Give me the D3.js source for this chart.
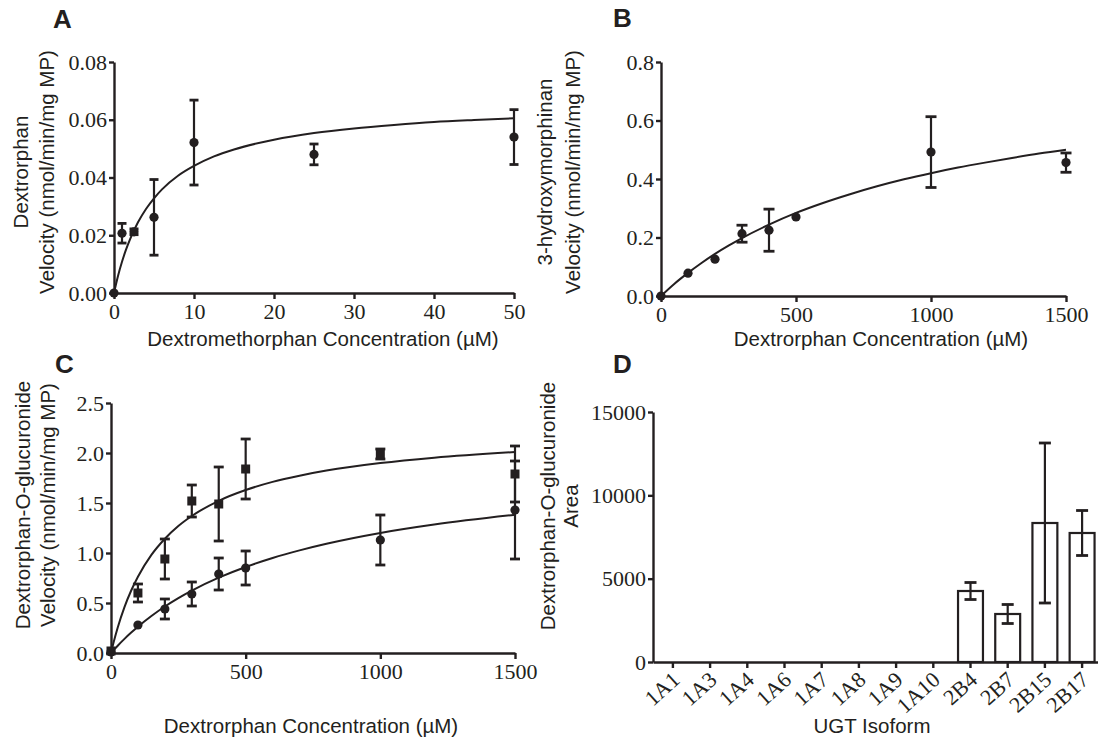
<!DOCTYPE html>
<html>
<head>
<meta charset="utf-8">
<script src="https://cdn.jsdelivr.net/npm/d3@7"></script>
<style>
  body { margin: 0; background: #fff; }
  .tick text { font-family: "Liberation Serif", "Times New Roman", serif; font-size: 22px; fill: #231f20; }
  .title { font-family: "Liberation Sans", Arial, sans-serif; font-size: 20.5px; fill: #231f20; }
  .letter { font-family: "Liberation Sans", Arial, sans-serif; font-size: 26px; font-weight: bold; fill: #231f20; }
</style>
</head>
<body>
<script>
// Panel A - dextromethorphan -> dextrorphan
var aConc = [0, 1, 2.5, 5, 10, 25, 50];
var aMean = [0, 0.0207, 0.0212, 0.0262, 0.0521, 0.0480, 0.0540];
var aErr  = [0, 0.0034, 0.0010, 0.0131, 0.0147, 0.0036, 0.0095];
var aFitConc = [0, 0.5, 1, 1.5, 2, 3, 4, 5, 6, 8, 10, 12.5, 15, 20, 25, 30, 35, 40, 45, 50];
var aFitRate = [0, 0.0059, 0.0108, 0.0150, 0.0186, 0.0245, 0.0291, 0.0328, 0.0359, 0.0406, 0.0440, 0.0473, 0.0497, 0.0531, 0.0554, 0.0570, 0.0582, 0.0592, 0.0599, 0.0605];

// Panel B - dextrorphan -> 3-hydroxymorphinan
var bConc = [0, 100, 200, 300, 400, 500, 1000, 1500];
var bMean = [0, 0.078, 0.126, 0.213, 0.225, 0.270, 0.492, 0.456];
var bErr  = [0, 0, 0, 0.029, 0.072, 0, 0.121, 0.033];
var bFitConc = [0, 50, 100, 150, 200, 250, 300, 400, 500, 600, 700, 800, 900, 1000, 1100, 1200, 1300, 1400, 1500];
var bFitRate = [0, 0.042, 0.079, 0.113, 0.144, 0.172, 0.198, 0.244, 0.284, 0.318, 0.348, 0.375, 0.399, 0.420, 0.439, 0.456, 0.472, 0.487, 0.500];

// Panel C - dextrorphan -> dextrorphan-O-glucuronide (squares and circles)
var cConc = [0, 100, 200, 300, 400, 500, 1000, 1500];
var cSqMean = [0.02, 0.60, 0.94, 1.52, 1.49, 1.84, 1.99, 1.79];
var cSqErr  = [0, 0.09, 0.20, 0.16, 0.37, 0.30, 0.05, 0.28];
var cCiMean = [0.01, 0.28, 0.44, 0.59, 0.79, 0.85, 1.13, 1.43];
var cCiErr  = [0, 0, 0.10, 0.12, 0.16, 0.17, 0.25, 0.49];
var cFitConc = [0, 10, 25, 50, 75, 100, 150, 200, 250, 300, 400, 500, 600, 700, 800, 1000, 1200, 1500];
var cSqFit = [0, 0.109, 0.255, 0.459, 0.625, 0.763, 0.981, 1.143, 1.270, 1.370, 1.522, 1.630, 1.711, 1.773, 1.824, 1.899, 1.953, 2.010];
var cCiFit = [0, 0.030, 0.073, 0.141, 0.204, 0.263, 0.370, 0.465, 0.549, 0.624, 0.753, 0.860, 0.950, 1.026, 1.092, 1.200, 1.284, 1.382];

// Panel D - UGT isoform screen
var isoforms = ["1A1", "1A3", "1A4", "1A6", "1A7", "1A8", "1A9", "1A10", "2B4", "2B7", "2B15", "2B17"];
var areaMean = [0, 0, 0, 0, 0, 0, 0, 0, 4260, 2880, 8340, 7740];
var areaErr  = [0, 0, 0, 0, 0, 0, 0, 0, 510, 570, 4800, 1350];

var ink = "#231f20";

var svg = d3.select("body").append("svg")
    .attr("width", 1098)
    .attr("height", 740);

function zip(xs, ys, es) {
  return xs.map(function(v, i) { return { x: v, y: ys[i], e: es ? es[i] : 0 }; });
}

function yAxis(y, ticks, fmt, x0) {
  var g = svg.append("g")
      .attr("transform", "translate(" + x0 + ",0)")
      .attr("color", ink)
      .call(d3.axisLeft(y).tickValues(ticks).tickFormat(fmt).tickSize(5).tickPadding(2).tickSizeOuter(0));
  g.selectAll("line, path").attr("stroke-width", 2.4);
  return g;
}

function xAxis(x, ticks, fmt, y0) {
  var g = svg.append("g")
      .attr("transform", "translate(0," + y0 + ")")
      .attr("color", ink)
      .call(d3.axisBottom(x).tickValues(ticks).tickFormat(fmt).tickSize(6).tickPadding(4).tickSizeOuter(0));
  g.selectAll("line, path").attr("stroke-width", 2.4);
  return g;
}

function fitLine(x, y, xs, ys) {
  svg.append("path")
      .datum(zip(xs, ys))
      .attr("fill", "none")
      .attr("stroke", ink)
      .attr("stroke-width", 2)
      .attr("d", d3.line()
        .x(function(d) { return x(d.x); })
        .y(function(d) { return y(d.y); })
        .curve(d3.curveMonotoneX));
}

function errorBars(x, y, pts, cap) {
  var g = svg.append("g").attr("stroke", ink).attr("stroke-width", 2.2);
  pts.filter(function(d) { return d.e > 0; }).forEach(function(d) {
    var cx = x(d.x), top = y(d.y + d.e), bot = y(d.y - d.e);
    g.append("line").attr("x1", cx).attr("x2", cx).attr("y1", top).attr("y2", bot);
    g.append("line").attr("x1", cx - cap / 2).attr("x2", cx + cap / 2).attr("y1", top).attr("y2", top).attr("stroke-width", 2.8);
    g.append("line").attr("x1", cx - cap / 2).attr("x2", cx + cap / 2).attr("y1", bot).attr("y2", bot).attr("stroke-width", 2.8);
  });
}

function circles(x, y, pts, r) {
  svg.append("g").selectAll("circle")
    .data(pts)
    .join("circle")
      .attr("cx", function(d) { return x(d.x); })
      .attr("cy", function(d) { return y(d.y); })
      .attr("r", r)
      .attr("fill", ink);
}

function squares(x, y, pts, s) {
  svg.append("g").selectAll("rect")
    .data(pts)
    .join("rect")
      .attr("x", function(d) { return x(d.x) - s / 2; })
      .attr("y", function(d) { return y(d.y) - s / 2; })
      .attr("width", s)
      .attr("height", s)
      .attr("fill", ink);
}

function xTitle(text, cx, baseline) {
  svg.append("text").attr("class", "title")
      .attr("x", cx).attr("y", baseline)
      .attr("text-anchor", "middle")
      .text(text);
}

function yTitle(lines, xs, cy) {
  lines.forEach(function(t, i) {
    svg.append("text").attr("class", "title")
        .attr("transform", "translate(" + xs[i] + "," + cy + ") rotate(-90)")
        .attr("text-anchor", "middle")
        .attr("dy", "0.35em")
        .text(t);
  });
}

function letter(t, x, y) {
  svg.append("text").attr("class", "letter").attr("x", x).attr("y", y).text(t);
}

// ---------- Panel A ----------
var xA = d3.scaleLinear().domain([0, 50]).range([114, 514]);
var yA = d3.scaleLinear().domain([0, 0.08]).range([293, 62]);
yAxis(yA, [0, 0.02, 0.04, 0.06, 0.08], d3.format(".2f"), 114);
xAxis(xA, [0, 10, 20, 30, 40, 50], d3.format("d"), 293);
fitLine(xA, yA, aFitConc, aFitRate);
var ptsA = zip(aConc, aMean, aErr);
errorBars(xA, yA, ptsA, 9);
circles(xA, yA, ptsA, 4.6);
xTitle("Dextromethorphan Concentration (\u00b5M)", 323, 346);
yTitle(["Dextrorphan", "Velocity (nmol/min/mg MP)"], [21, 47], 172);
letter("A", 53, 28);

// ---------- Panel B ----------
var xB = d3.scaleLinear().domain([0, 1500]).range([661, 1066]);
var yB = d3.scaleLinear().domain([0, 0.8]).range([296, 62]);
yAxis(yB, [0, 0.2, 0.4, 0.6, 0.8], d3.format(".1f"), 661);
xAxis(xB, [0, 500, 1000, 1500], d3.format("d"), 296);
fitLine(xB, yB, bFitConc, bFitRate);
var ptsB = zip(bConc, bMean, bErr);
errorBars(xB, yB, ptsB, 11);
circles(xB, yB, ptsB, 4.6);
xTitle("Dextrorphan Concentration (\u00b5M)", 881, 346);
yTitle(["3-hydroxymorphinan", "Velocity (nmol/min/mg MP)"], [545, 573], 172);
letter("B", 613, 27);

// ---------- Panel C ----------
var xC = d3.scaleLinear().domain([0, 1500]).range([111, 515]);
var yC = d3.scaleLinear().domain([0, 2.5]).range([653, 403]);
yAxis(yC, [0, 0.5, 1, 1.5, 2, 2.5], d3.format(".1f"), 111);
xAxis(xC, [0, 500, 1000, 1500], d3.format("d"), 653);
fitLine(xC, yC, cFitConc, cSqFit);
fitLine(xC, yC, cFitConc, cCiFit);
var ptsCs = zip(cConc, cSqMean, cSqErr);
var ptsCc = zip(cConc, cCiMean, cCiErr);
errorBars(xC, yC, ptsCs, 10);
errorBars(xC, yC, ptsCc, 10);
squares(xC, yC, ptsCs, 9);
circles(xC, yC, ptsCc, 4.6);
xTitle("Dextrorphan Concentration (\u00b5M)", 311, 733);
yTitle(["Dextrorphan-O-glucuronide", "Velocity (nmol/min/mg MP)"], [23, 48], 505);
letter("C", 55, 373);

// ---------- Panel D ----------
var xD = d3.scaleBand().domain(isoforms).range([653, 1102]).paddingInner(0.33).paddingOuter(0.2);
var yD = d3.scaleLinear().domain([0, 15000]).range([662, 412]);
svg.append("g").selectAll("rect")
  .data(isoforms.map(function(k, i) { return { k: k, v: areaMean[i], e: areaErr[i] }; }).filter(function(d) { return d.v > 0; }))
  .join("rect")
    .attr("x", function(d) { return xD(d.k); })
    .attr("y", function(d) { return yD(d.v); })
    .attr("width", xD.bandwidth())
    .attr("height", function(d) { return yD(0) - yD(d.v); })
    .attr("fill", "#fff")
    .attr("stroke", ink)
    .attr("stroke-width", 2.2);
var gD = svg.append("g").attr("stroke", ink);
isoforms.forEach(function(k, i) {
  if (!areaErr[i]) return;
  var cx = xD(k) + xD.bandwidth() / 2, top = yD(areaMean[i] + areaErr[i]), bot = yD(areaMean[i] - areaErr[i]);
  gD.append("line").attr("x1", cx).attr("x2", cx).attr("y1", top).attr("y2", bot).attr("stroke-width", 2.2);
  gD.append("line").attr("x1", cx - 6).attr("x2", cx + 6).attr("y1", top).attr("y2", top).attr("stroke-width", 2.8);
  gD.append("line").attr("x1", cx - 6).attr("x2", cx + 6).attr("y1", bot).attr("y2", bot).attr("stroke-width", 2.8);
});
yAxis(yD, [0, 5000, 10000, 15000], d3.format("d"), 653);
var gxD = svg.append("g")
    .attr("transform", "translate(0,662)")
    .attr("color", ink)
    .call(d3.axisBottom(xD).tickSize(6).tickSizeOuter(0));
gxD.selectAll("line, path").attr("stroke-width", 2.4);
gxD.selectAll(".tick text")
    .attr("text-anchor", "end")
    .attr("y", 0)
    .attr("dy", "0.35em")
    .attr("transform", "translate(3,14) rotate(-42)");
xTitle("UGT Isoform", 872, 733);
yTitle(["Dextrorphan-O-glucuronide", "Area"], [548, 571], 506);
letter("D", 613, 373);
</script>
</body>
</html>
